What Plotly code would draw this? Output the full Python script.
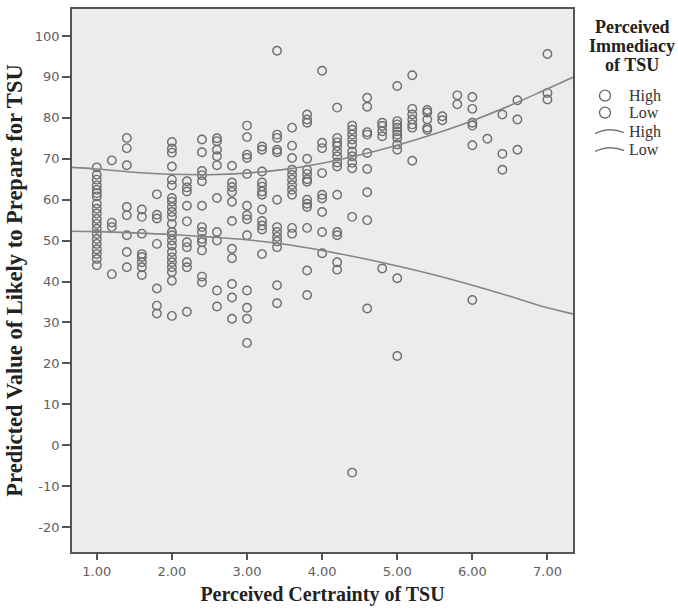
import plotly.graph_objects as go

# ---- scatter data: Perceived Certainty (x) columns with Predicted values (y) ----
y_at_100 = [67.9, 66.1, 64.9, 63.5, 62.4, 61.6, 60.8, 59.0, 57.8, 56.6, 55.3, 54.1, 52.9,
            51.6, 50.4, 49.2, 47.9, 46.7, 45.5, 44.0]
y_at_120 = [69.6, 54.4, 53.3, 41.8]
y_at_140 = [75.1, 72.6, 68.4, 58.2, 56.2, 51.3, 47.2, 43.5]
y_at_160 = [57.6, 55.8, 51.7, 46.7, 46.0, 44.7, 43.5, 41.6]
y_at_180 = [61.3, 56.3, 55.4, 49.2, 38.3, 34.1, 32.2]
y_at_200 = [74.1, 72.5, 71.5, 68.1, 64.9, 63.5, 60.4, 59.5, 58.2, 57.0, 55.8, 54.1, 52.1,
            51.3, 50.0, 48.8, 47.2, 45.9, 44.7, 43.5, 42.3, 40.2, 31.6]
y_at_220 = [64.5, 63.0, 62.0, 58.5, 54.7, 49.6, 48.4, 44.7, 43.5, 32.6]
y_at_240 = [74.7, 71.6, 67.0, 66.0, 64.5, 58.5, 53.3, 52.1, 50.4, 49.6, 47.6, 41.2, 39.8]
y_at_260 = [75.0, 74.3, 72.2, 70.6, 68.4, 60.4, 52.1, 50.0, 37.8, 33.9]
y_at_280 = [68.3, 64.2, 63.1, 61.9, 59.5, 54.8, 48.0, 45.7, 39.4, 36.1, 30.9]
y_at_300 = [78.1, 75.3, 71.0, 70.2, 66.3, 58.5, 56.2, 55.2, 51.3, 37.8, 33.6, 30.9, 25.0]
y_at_320 = [73.0, 72.2, 66.9, 64.2, 63.2, 62.0, 61.2, 57.6, 54.8, 53.7, 52.7, 46.7]
y_at_340 = [96.4, 75.9, 75.1, 72.2, 71.6, 60.0, 53.3, 52.1, 50.9, 49.8, 48.4, 39.1, 34.7]
y_at_360 = [77.6, 73.2, 70.2, 67.3, 66.1, 64.9, 63.6, 62.4, 61.2, 53.1, 51.7]
y_at_380 = [80.8, 79.6, 78.8, 70.0, 67.3, 66.3, 65.0, 64.4, 60.0, 59.0, 58.2, 53.1, 42.7, 36.7]
y_at_400 = [91.5, 73.9, 72.6, 66.5, 61.2, 60.3, 57.0, 52.1, 46.9]
y_at_420 = [82.5, 75.1, 74.0, 73.1, 71.8, 70.6, 69.1, 68.1, 61.2, 52.1, 51.3, 44.7, 42.9]
y_at_440 = [78.1, 77.1, 75.9, 74.7, 73.5, 71.8, 70.6, 69.0, 67.7, 55.8, -6.7]
y_at_460 = [84.9, 82.7, 76.5, 75.9, 71.4, 67.5, 61.8, 55.0, 33.4]
y_at_480 = [78.8, 78.0, 76.7, 75.5, 43.2]
y_at_500 = [87.8, 79.2, 78.4, 77.6, 76.7, 75.9, 75.1, 73.5, 72.2, 40.8, 21.8]
y_at_520 = [90.4, 82.2, 80.8, 79.6, 78.4, 77.6, 69.5]
y_at_540 = [81.9, 81.3, 79.6, 77.6, 77.1]
y_at_560 = [80.4, 79.4]
y_at_580 = [85.5, 83.3]
y_at_600 = [85.1, 82.2, 78.8, 78.1, 73.3, 35.5]
y_at_620 = [74.9]
y_at_640 = [80.8, 71.2, 67.3]
y_at_660 = [84.3, 79.6, 72.2]
y_at_700 = [95.6, 86.1, 84.5]

columns = [(1.0, y_at_100), (1.2, y_at_120), (1.4, y_at_140), (1.6, y_at_160), (1.8, y_at_180),
           (2.0, y_at_200), (2.2, y_at_220), (2.4, y_at_240), (2.6, y_at_260), (2.8, y_at_280),
           (3.0, y_at_300), (3.2, y_at_320), (3.4, y_at_340), (3.6, y_at_360), (3.8, y_at_380),
           (4.0, y_at_400), (4.2, y_at_420), (4.4, y_at_440), (4.6, y_at_460), (4.8, y_at_480),
           (5.0, y_at_500), (5.2, y_at_520), (5.4, y_at_540), (5.6, y_at_560), (5.8, y_at_580),
           (6.0, y_at_600), (6.2, y_at_620), (6.4, y_at_640), (6.6, y_at_660), (7.0, y_at_700)]

# ---- fitted curves ----
curve_x = [0.67, 1.0, 1.5, 2.0, 2.5, 3.0, 3.5, 4.0, 4.5, 5.0, 5.5, 6.0, 6.5, 7.0, 7.34]
curve_high = [67.9, 67.5, 66.7, 66.2, 66.1, 66.5, 67.4, 68.9, 70.9, 73.3, 76.1, 79.3, 83.0, 87.1, 89.9]
curve_low = [52.3, 52.2, 51.9, 51.5, 50.9, 50.2, 49.1, 47.6, 45.8, 43.8, 41.6, 39.1, 36.4, 33.6, 32.1]

x_ticks = [1, 2, 3, 4, 5, 6, 7]
y_ticks = [-20, -10, 0, 10, 20, 30, 40, 50, 60, 70, 80, 90, 100]
y_tick_text = ["-20", "-10", "0", "10", "20", "30", "40", "50", "60", "70", "80", "90", "100"]

legend_title_lines = ["Perceived", "Immediacy", "of TSU"]
legend_labels = ["High", "Low", "High", "Low"]

split_level = 59
hx, hy, lx, ly = [], [], [], []
for xv, ys in columns:
    for yv in ys:
        if yv >= split_level:
            hx.append(xv); hy.append(yv)
        else:
            lx.append(xv); ly.append(yv)

W, H = 678, 611
ML, MR, MT, MB = 72, 105, 7, 59
PW, PH = W - ML - MR, H - MT - MB


def px(xp):
    return (xp - ML) / PW


def py(yp):
    return (H - MB - yp) / PH


GRAY = "#6e6e6e"
mk = dict(symbol="circle-open", size=8.5, color=GRAY, line=dict(width=1.4, color=GRAY))
line_style = dict(color="#858585", width=1.6, shape="spline")

fig = go.Figure()
fig.add_trace(go.Scatter(x=hx, y=hy, mode="markers", name="High", marker=mk, showlegend=False))
fig.add_trace(go.Scatter(x=lx, y=ly, mode="markers", name="Low", marker=mk, showlegend=False))
fig.add_trace(go.Scatter(x=curve_x, y=curve_high, mode="lines", name="High", line=line_style,
                         showlegend=False))
fig.add_trace(go.Scatter(x=curve_x, y=curve_low, mode="lines", name="Low", line=line_style,
                         showlegend=False))

axis_common = dict(showline=True, linecolor="#555555", linewidth=1.8, mirror=True,
                   ticks="outside", ticklen=6, tickcolor="#555555", tickwidth=1.6,
                   showgrid=False, zeroline=False,
                   tickfont=dict(family="DejaVu Sans", size=13, color="#606060"))

serif = "Liberation Serif, Times New Roman"
fig.update_xaxes(range=[0.67, 7.34], tickvals=x_ticks, tickformat=".2f",
                 title=dict(text="<b>Perceived Certrainty of TSU</b>",
                            font=dict(family=serif, size=20, color="#222222"), standoff=9),
                 **axis_common)
fig.update_yaxes(range=[-26.1, 106.6], tickvals=y_ticks, ticktext=y_tick_text,
                 title=dict(text="<b>Predicted Value of Likely to Prepare for TSU</b>",
                            font=dict(family=serif, size=22.5, color="#222222"), standoff=6),
                 **axis_common)
fig.update_yaxes(ticklen=8)

# ---- legend drawn as annotations and shapes ----
annotations = []
for txt, yp in zip(legend_title_lines, [25, 44, 63]):
    annotations.append(dict(x=px(632), y=py(yp), xref="paper", yref="paper", text="<b>" + txt + "</b>",
                            showarrow=False, xanchor="center", yanchor="middle",
                            font=dict(family=serif, size=18, color="#222222")))
row_y = [94, 111, 130, 148]
for txt, yp in zip(legend_labels, row_y):
    annotations.append(dict(x=px(627), y=py(yp), xref="paper", yref="paper", text=txt,
                            showarrow=False, xanchor="left", yanchor="middle",
                            font=dict(family=serif, size=16, color="#333333")))

shapes = []
for yp in row_y[:2]:
    shapes.append(dict(type="circle", xref="paper", yref="paper",
                       x0=px(605 - 5.5), x1=px(605 + 5.5), y0=py(yp + 5.5), y1=py(yp - 5.5),
                       line=dict(color="#666666", width=1.3)))
for yp in row_y[2:]:
    path = "M {:.4f},{:.4f} Q {:.4f},{:.4f} {:.4f},{:.4f}".format(
        px(595), py(yp + 2), px(609), py(yp - 5), px(624), py(yp + 1))
    shapes.append(dict(type="path", xref="paper", yref="paper", path=path,
                       line=dict(color="#777777", width=1.4)))

fig.update_layout(
    width=W, height=H,
    margin=dict(l=ML, r=MR, t=MT, b=MB),
    paper_bgcolor="white", plot_bgcolor="#ececec",
    showlegend=False,
    annotations=annotations,
    shapes=shapes,
)

fig.write_html("out.html", config={"displayModeBar": False},
               post_script="document.body.style.margin='0';document.body.style.overflow='hidden';")
